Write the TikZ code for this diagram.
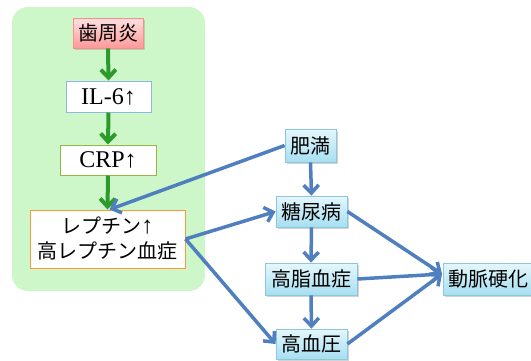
\documentclass[tikz,border=0pt]{standalone}
\usepackage{fontspec}
\setmainfont{Liberation Serif}
\newfontfamily\jp{Noto Sans CJK JP}
\usetikzlibrary{arrows.meta,shadows}
\definecolor{bgG}{HTML}{CDF7C8}
\definecolor{grA}{HTML}{2E9A2E}
\definecolor{blA}{HTML}{4F7FBF}
\definecolor{bxTop}{HTML}{E6F7FC}
\definecolor{bxBot}{HTML}{A6DFF1}
\definecolor{bxBrd}{HTML}{8CC8DC}
\tikzset{
  txt/.style={font=\fontsize{20}{24}\selectfont, inner sep=0pt, align=center},
  lat/.style={font=\fontsize{24}{28}\selectfont},
  lbox/.style={txt, draw, line width=1pt, fill=white},
  bbox/.style={txt, draw=bxBrd, line width=0.8pt, top color=bxTop, bottom color=bxBot,
    drop shadow={shadow xshift=1.5pt, shadow yshift=-1.5pt, opacity=0.35}},
  garr/.style={draw=grA, line width=4pt, -{Straight Barb[length=8pt,width=15pt,line width=4pt]}},
  barr/.style={draw=blA, line width=3.5pt, -{Straight Barb[length=8pt,width=15pt,line width=3.5pt]}},
}
\begin{document}
\begin{tikzpicture}[x=1pt,y=-1pt]
\useasboundingbox (0,0) rectangle (531,360);
\fill[bgG, rounded corners=16pt] (12,7) rectangle (205,291);
% left column
\node[txt, draw=red!45!white, line width=0.8pt, top color=red!12!white, bottom color=red!40!white,
  minimum width=70pt, minimum height=30pt,
  drop shadow={shadow xshift=1.5pt, shadow yshift=-1.5pt, opacity=0.3}] (shu) at (108,33) {\jp 歯周炎};
\node[lbox, lat, draw=cyan!60!blue!45!white, minimum width=85pt, minimum height=31pt] (il6) at (108.5,96.5) {IL-6↑};
\node[lbox, lat, draw=olive!60!green!70!white, minimum width=96pt, minimum height=30pt] (crp) at (108,160) {CRP↑};
\node[lbox, draw=orange!80!white, minimum width=155pt, minimum height=58pt] (lep) at (107.5,239) {{\jp レプチン}{\fontsize{24}{24}\selectfont ↑}\\[1pt]{\jp 高レプチン血症}};
% right side
\node[bbox, minimum width=51pt, minimum height=33pt] (himan) at (310.5,145.5) {\jp 肥満};
\node[bbox, minimum width=71pt, minimum height=31pt] (tou) at (311.5,211.5) {\jp 糖尿病};
\node[bbox, minimum width=92pt, minimum height=32pt] (kosi) at (311,279) {\jp 高脂血症};
\node[bbox, minimum width=71pt, minimum height=30pt] (kou) at (311.5,344) {\jp 高血圧};
\node[bbox, minimum width=90pt, minimum height=32pt] (dou) at (488,279) {\jp 動脈硬化};
\coordinate (dw) at (442,274);
% green arrows
\draw[garr] (shu.south) -- (il6.north);
\draw[garr] (il6.south) -- (crp.north);
\draw[garr] (crp.south) -- (lep.north);
% blue arrows
\draw[barr] (himan.west) -- ([xshift=2pt]lep.north);
\draw[barr] (lep.east) -- (tou.west);
\draw[barr] (lep.east) -- (kou.west);
\draw[barr] (himan.south) -- (tou.north);
\draw[barr] (tou.south) -- (kosi.north);
\draw[barr] (kosi.south) -- (kou.north);
\draw[barr] (tou.east) -- (dw);
\draw[barr] (kosi.east) -- (dw);
\draw[barr] (kou.east) -- (dw);
\end{tikzpicture}
\end{document}
